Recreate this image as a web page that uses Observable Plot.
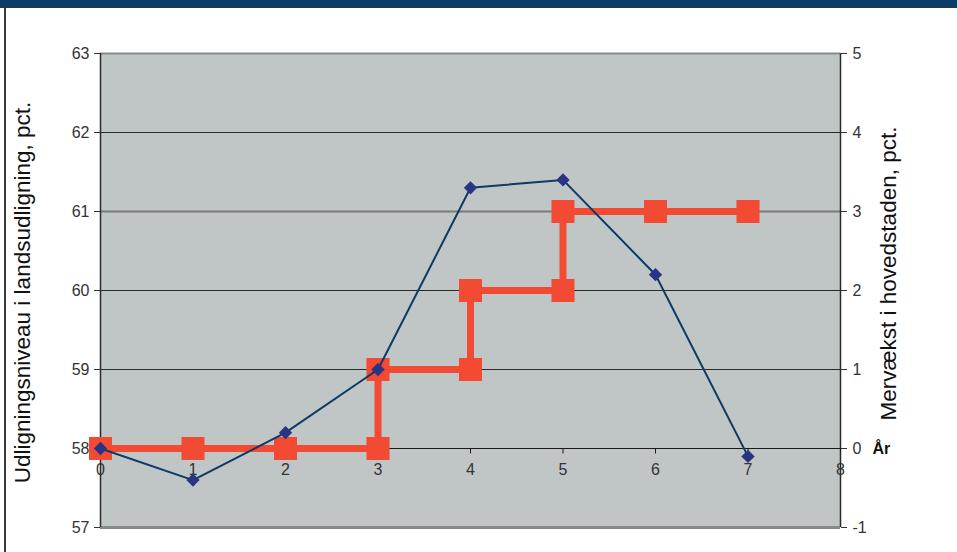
<!DOCTYPE html>
<html><head><meta charset="utf-8">
<script src="https://cdn.jsdelivr.net/npm/d3@7"></script>
<script src="https://cdn.jsdelivr.net/npm/@observablehq/plot@0.6"></script>
<style>
body{margin:0;background:#fff;font-family:"Liberation Sans",Arial,sans-serif}
#hdr{height:7px;background:#0c3c69;border-bottom:1px solid #333}
#wrap{position:relative}
#edge{position:absolute;left:4px;top:0;height:544px;width:2px;background:#3a3a3a}
</style></head>
<body>
<div id="hdr"></div>
<div id="wrap"><div id="edge"></div><div id="chart"></div></div>
<script>
const years = [0, 1, 2, 3, 4, 5, 6, 7];
const growth = [0, -0.4, 0.2, 1.0, 3.3, 3.4, 2.2, -0.1];          // right axis
const stepX = [0, 1, 2, 3, 3, 4, 4, 5, 5, 6, 7];
const stepY = [58, 58, 58, 58, 59, 59, 60, 60, 61, 61, 61];       // left axis
const leftTicks = [57, 58, 59, 60, 61, 62, 63];
const rightTicks = [-1, 0, 1, 2, 3, 4, 5];
const xTicks = [0, 1, 2, 3, 4, 5, 6, 7, 8];
const leftTitle = "Udligningsniveau i landsudligning, pct.";
const rightTitle = "Mervækst i hovedstaden, pct.";
const xTitle = "År";
const offset = 58; // right value 0 aligns with left value 58

const red = "#f24a33", blueLine = "#0d3a66", blueDot = "#2a3384";
const steps = stepX.map((x, i) => ({x, y: stepY[i]}));
const blue = years.map((x, i) => ({x, v: growth[i]}));

const chart = Plot.plot({
  width: 957, height: 544,
  marginTop: 45, marginBottom: 25, marginLeft: 100, marginRight: 117,
  style: {fontFamily: "Liberation Sans, Arial, sans-serif", fontSize: "16px", color: "#333", background: "transparent", overflow: "visible"},
  x: {domain: [0, 8], axis: null},
  y: {domain: [57, 63], axis: null},
  marks: [
    Plot.frame({fill: "#c0c6c6", stroke: null}),
    Plot.ruleY([59, 60, 62], {stroke: "#2a2a2a", strokeWidth: 1}),
    Plot.ruleY([61], {stroke: "#7a7a7a", strokeWidth: 2}),
    Plot.ruleY([63], {stroke: "#8a8a8a", strokeWidth: 2}),
    Plot.ruleY([57], {stroke: "#8a8a8a", strokeWidth: 3}),
    Plot.ruleX([0, 8], {stroke: "#2a2a2a", strokeWidth: 1.5}),
    Plot.ruleY([58], {stroke: "#1a1a1a", strokeWidth: 1}),
    Plot.ruleX(xTicks, {x: d => d, y1: 58, y2: 57.93, stroke: "#1a1a1a"}),
    Plot.text(xTicks, {x: d => d, y: 58, dy: 21, text: d => String(d), fill: "#333", fontSize: 16}),
    Plot.axisY({anchor: "left", ticks: leftTicks, tickFormat: d => String(d), tickSize: 6, tickPadding: 5, label: null, fontSize: 16, stroke: "#333"}),
    Plot.axisY({anchor: "right", ticks: rightTicks.map(d => d + offset), tickFormat: d => String(d - offset), tickSize: 6, tickPadding: 6, label: null, fontSize: 16, stroke: "#333"}),
    Plot.text([leftTitle], {frameAnchor: "left", textAnchor: "middle", dx: -78, dy: 2, rotate: -90, fontSize: 22.5, fill: "#111"}),
    Plot.text([rightTitle], {frameAnchor: "right", textAnchor: "middle", dx: 48, dy: -17, rotate: -90, fontSize: 22.5, fill: "#111"}),
    Plot.text([xTitle], {x: 8, y: 58, dx: 32, textAnchor: "start", fontWeight: "bold", fontSize: 16, fill: "#111"}),
    Plot.line(steps, {x: "x", y: "y", stroke: red, strokeWidth: 7}),
    Plot.dot(steps, {x: "x", y: "y", symbol: "square", r: 13, fill: red, stroke: null}),
    Plot.line(blue, {x: "x", y: d => d.v + offset, stroke: blueLine, strokeWidth: 2}),
    Plot.dot(blue, {x: "x", y: d => d.v + offset, symbol: "diamond2", r: 6, fill: blueDot, stroke: null})
  ]
});
document.getElementById("chart").appendChild(chart);
</script>
</body></html>
